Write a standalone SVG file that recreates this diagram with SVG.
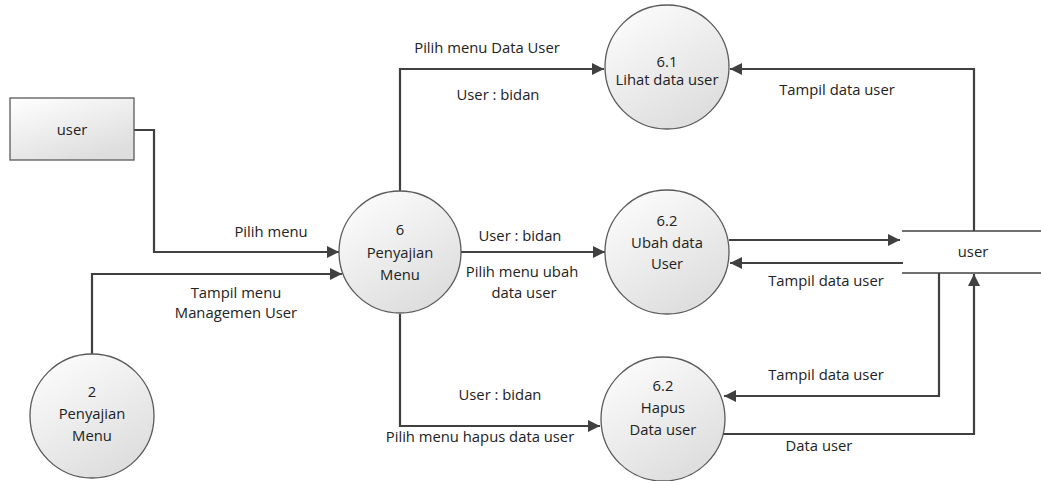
<svg xmlns="http://www.w3.org/2000/svg" width="1041" height="481" viewBox="0 0 1041 481">
<defs>
<linearGradient id="g" x1="0" y1="0" x2="0.6" y2="1">
<stop offset="0" stop-color="#ffffff"/>
<stop offset="1" stop-color="#dedede"/>
</linearGradient>
<marker id="ar" viewBox="0 0 10 10" refX="10" refY="5" markerWidth="5.5" markerHeight="5.5" orient="auto" markerUnits="strokeWidth">
<path d="M0,0 L10,5 L0,10 z" fill="#404040"/>
</marker>
</defs>
<style>
.sh{fill:url(#g);stroke:#5a5a5a;stroke-width:1.3}
.c{fill:none;stroke:#404040;stroke-width:2.2}
.a{marker-end:url(#ar)}
text{font-family:"Open Sans","Liberation Sans",sans-serif;font-size:14.8px;fill:#222}
.m{text-anchor:middle}
.st{stroke:#404040;stroke-width:1.3}
</style>
<rect width="1041" height="481" fill="#fff"/>
<g id="connectors">
<path class="c a" d="M134,130 H154 V252 H339"/>
<path class="c a" d="M92,354 V274 H342"/>
<path class="c a" d="M400,191 V69 H604"/>
<path class="c a" d="M461,252 H605"/>
<path class="c a" d="M400,314 V426 H600"/>
<path class="c a" d="M974,231 V69 H730"/>
<path class="c a" d="M729,240 H900"/>
<path class="c a" d="M903,263 H730"/>
<path class="c a" d="M939,273 V396 H724"/>
<path class="c a" d="M723,434 H974 V274"/>
</g>
<g id="n-user">
<rect class="sh" x="10" y="98" width="124" height="62"/>
<text class="m" x="72" y="135">user</text>
</g>
<g id="n-2">
<circle class="sh" cx="92" cy="416" r="62"/>
<text class="m" x="92" y="397">2</text>
<text class="m" x="92" y="419">Penyajian</text>
<text class="m" x="92" y="441">Menu</text>
</g>
<g id="n-6">
<circle class="sh" cx="400" cy="252" r="61"/>
<text class="m" x="400" y="235">6</text>
<text class="m" x="400" y="258">Penyajian</text>
<text class="m" x="400" y="280">Menu</text>
</g>
<g id="n-61">
<circle class="sh" cx="667" cy="67" r="62"/>
<text class="m" x="667" y="67">6.1</text>
<text class="m" x="667" y="85">Lihat data user</text>
</g>
<g id="n-62">
<circle class="sh" cx="667" cy="252" r="62"/>
<text class="m" x="667" y="226">6.2</text>
<text class="m" x="667" y="248">Ubah data</text>
<text class="m" x="667" y="269">User</text>
</g>
<g id="n-63">
<circle class="sh" cx="663" cy="419" r="62"/>
<text class="m" x="663" y="391">6.2</text>
<text class="m" x="663" y="413">Hapus</text>
<text class="m" x="663" y="435">Data user</text>
</g>
<g id="n-store">
<line class="st" x1="902" y1="231" x2="1041" y2="231"/>
<line class="st" x1="902" y1="273" x2="1041" y2="273"/>
<text class="m" x="973" y="257">user</text>
</g>
<g id="labels">
<text class="m" x="487" y="53">Pilih menu Data User</text>
<text class="m" x="498" y="100">User : bidan</text>
<text class="m" x="837" y="95">Tampil data user</text>
<text class="m" x="271" y="237">Pilih menu</text>
<text class="m" x="520" y="241">User : bidan</text>
<text class="m" x="522" y="277">Pilih menu ubah</text>
<text class="m" x="524" y="298">data user</text>
<text class="m" x="826" y="286">Tampil data user</text>
<text class="m" x="236" y="298">Tampil menu</text>
<text class="m" x="236" y="318">Managemen User</text>
<text class="m" x="500" y="400">User : bidan</text>
<text class="m" x="480" y="442">Pilih menu hapus data user</text>
<text class="m" x="826" y="380">Tampil data user</text>
<text class="m" x="819" y="451">Data user</text>
</g>
</svg>
